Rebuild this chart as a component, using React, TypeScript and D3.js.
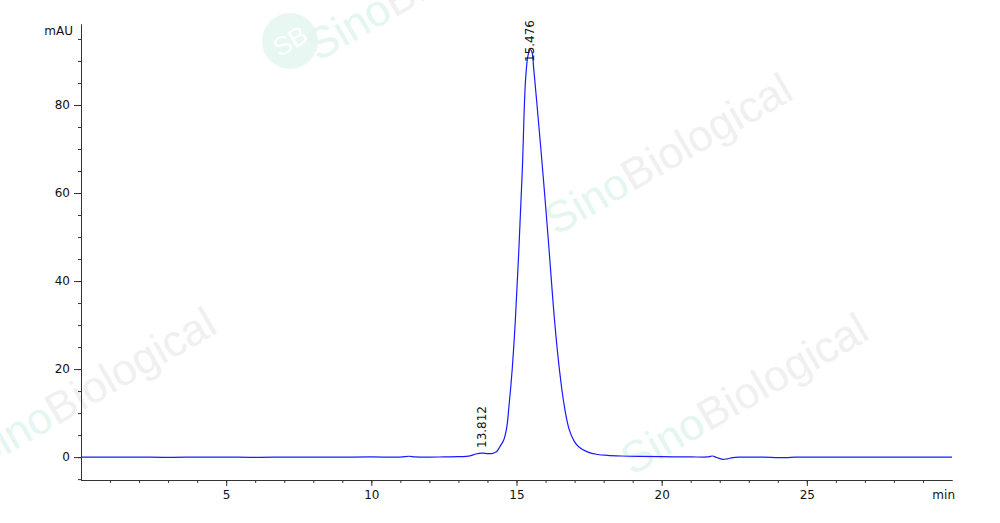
import React, { useEffect, useRef } from "react";
import * as d3 from "d3";

// retention time (min) and absorbance (mAU)
const times = [
  0, 1, 2, 3, 4, 5, 6, 7, 8, 9, 10, 11, 11.3, 11.5, 12, 12.5, 13, 13.4, 13.6,
  13.812, 14.0, 14.15, 14.31, 14.42, 14.56, 14.66, 14.74, 14.85, 14.96, 15.08,
  15.2, 15.31, 15.4, 15.476, 15.53, 15.59, 15.7, 15.91, 16.1, 16.31, 16.48,
  16.63, 16.8, 16.98, 17.15, 17.44, 17.8, 18.13, 18.6, 19.2, 20, 21, 21.6,
  21.75, 21.9, 22.1, 22.25, 22.45, 22.7, 23, 23.5, 24, 24.3, 24.6, 25, 26, 27,
  28, 29, 30,
];
const signal = [
  0, 0, 0, -0.05, 0, 0, -0.05, 0, 0, 0, 0.05, 0, 0.2, 0.05, 0, 0.05, 0.1, 0.3,
  0.7, 0.9, 0.8, 0.8, 1.2, 2.3, 3.9, 6.6, 11.5, 19.8, 31.1, 47, 65.2, 85.5, 91.4,
  92.6, 92.1, 88.5, 80.5, 64.5, 49, 31.1, 19.8, 12.3, 6.6, 3.7, 2.3, 1.2, 0.6,
  0.4, 0.25, 0.15, 0.1, 0.05, 0.05, 0.25, -0.1, -0.5, -0.4, -0.1, 0, 0, 0,
  -0.1, -0.1, 0, 0, 0, 0, 0, 0, 0,
];

const peakTimes = [13.812, 15.476];
const peakTops = [448, 62]; // pixel bottom of each rotated label
const peakLabels = ["13.812", "15.476"];

const majorX = [5, 10, 15, 20, 25];
const minorX = d3.range(1, 30);
const majorY = [0, 20, 40, 60, 80];
const minorY = d3.range(-5, 96, 5);

const W = 1000;
const H = 523;
const FONT = "DejaVu Sans";

const x = d3.scaleLinear().domain([0, 30]).range([81, 952]);
const y = d3.scaleLinear().domain([-5.2, 98.4]).range([480, 24]);

const line = d3
  .line<number>()
  .x((_, i) => x(times[i]))
  .y((d) => y(d))
  .curve(d3.curveCatmullRom.alpha(0.5));

const Watermark = ({ tx, ty }: { tx: number; ty: number }) => (
  <g transform={`translate(${tx},${ty}) rotate(-30)`} fontFamily="Liberation Sans" fontSize={44}>
    <text fill="#e4f6ef">
      Sino<tspan fill="#f0f0f0">Biological</tspan>
    </text>
  </g>
);

export default function App() {
  const xMinRef = useRef<SVGGElement>(null);
  const xMajRef = useRef<SVGGElement>(null);
  const yMinRef = useRef<SVGGElement>(null);
  const yMajRef = useRef<SVGGElement>(null);

  useEffect(() => {
    const style = (g: d3.Selection<SVGGElement, unknown, null, undefined>) => {
      g.attr("font-family", FONT).attr("font-size", 12);
      g.selectAll("path, line").attr("stroke", "#333");
      g.selectAll("text").attr("fill", "#111");
    };
    d3.select(xMinRef.current!)
      .call(d3.axisBottom(x).tickValues(minorX).tickSize(3).tickSizeOuter(0).tickFormat(() => ""))
      .call(style);
    d3.select(xMajRef.current!)
      .call(d3.axisBottom(x).tickValues(majorX).tickSize(6).tickSizeOuter(0).tickPadding(4))
      .call(style);
    d3.select(yMinRef.current!)
      .call(d3.axisLeft(y).tickValues(minorY).tickSize(3).tickSizeOuter(0).tickFormat(() => ""))
      .call(style);
    d3.select(yMajRef.current!)
      .call(d3.axisLeft(y).tickValues(majorY).tickSize(7).tickSizeOuter(0).tickPadding(4))
      .call(style);
  }, []);

  return (
    <svg width={W} height={H} style={{ position: "absolute", left: 0, top: 0, background: "#fff" }}>
      {/* watermarks */}
      <g>
        <circle cx={290} cy={41} r={28} fill="#e8f7f2" />
        <text x={290} y={50} textAnchor="middle" fontFamily="Liberation Sans" fontSize={26} fill="#fff"
          transform="rotate(-30,290,41)">SB</text>
        <Watermark tx={318} ty={62} />
        <Watermark tx={556} ty={236} />
        <Watermark tx={-20} ty={470} />
        <Watermark tx={632} ty={476} />
      </g>

      <g ref={xMinRef} transform="translate(0,480)" />
      <g ref={xMajRef} transform="translate(0,480)" />
      <g ref={yMinRef} transform="translate(81,0)" />
      <g ref={yMajRef} transform="translate(81,0)" />

      <text x={73} y={35} textAnchor="end" fontFamily={FONT} fontSize={12} fill="#111">mAU</text>
      <text x={955} y={499} textAnchor="end" fontFamily={FONT} fontSize={12} fill="#111">min</text>

      <path d={line(signal) ?? ""} fill="none" stroke="#1a1aff" strokeWidth={1.2} />

      {peakTimes.map((t, i) => (
        <text key={i} transform={`translate(${x(t) + 4},${peakTops[i]}) rotate(-90)`}
          fontFamily={FONT} fontSize={12} fill="#111">
          {peakLabels[i]}
        </text>
      ))}
    </svg>
  );
}
